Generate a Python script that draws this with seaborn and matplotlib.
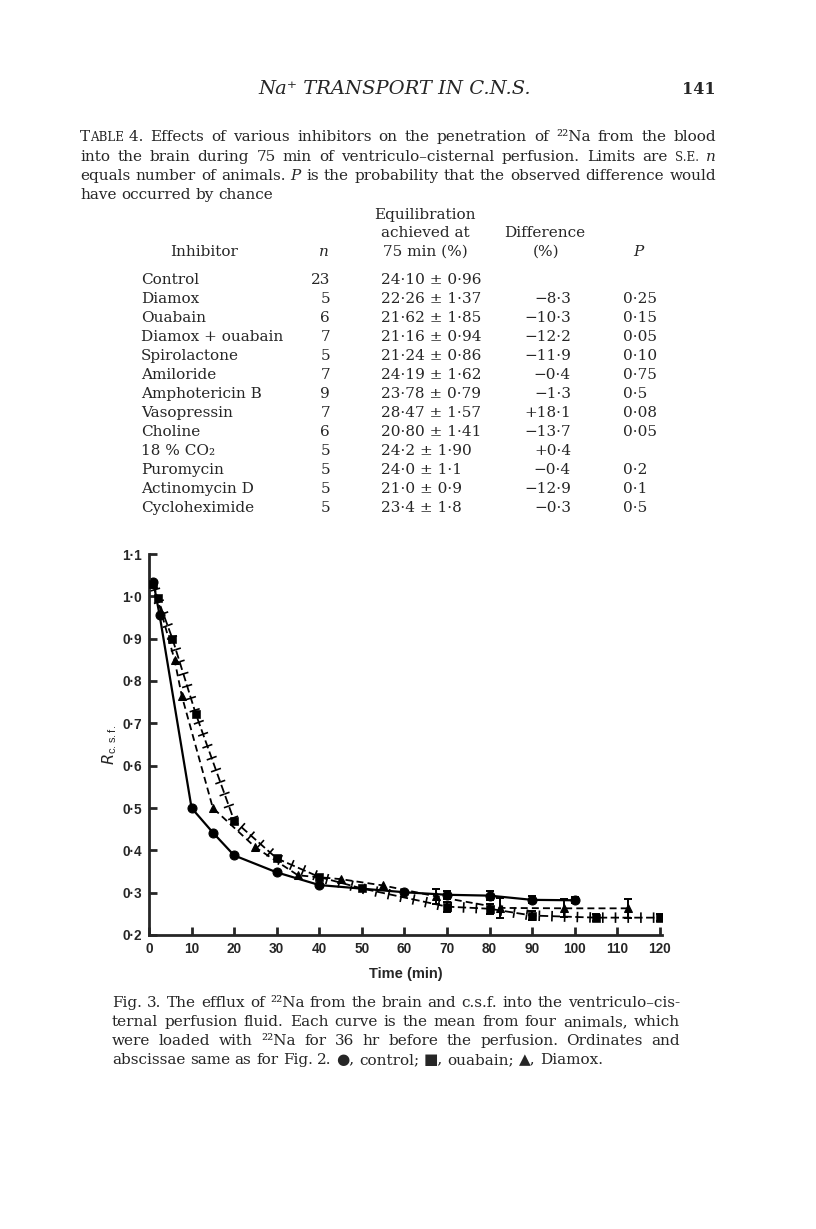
import pandas as pd
import seaborn as sns
import matplotlib.pyplot as plt
import matplotlib.patheffects as pe

W, H = 816, 1229

# Fig. 3 values (time in min, R c.s.f.)
control_t = [1, 2.5, 10, 15, 20, 30, 40, 60, 70, 80, 90, 100]
control_r = [1.035, 0.955, 0.50, 0.442, 0.388, 0.348, 0.318, 0.301, 0.295, 0.293, 0.283, 0.282]
control_err = [0, 0, 0, 0, 0, 0, 0, 0, 0.010, 0.010, 0.008, 0.007]

ouabain_t = [1, 2, 5.5, 11, 20, 30, 40, 50, 70, 80, 90, 105, 120]
ouabain_r = [1.03, 0.996, 0.90, 0.722, 0.47, 0.381, 0.337, 0.31, 0.267, 0.262, 0.246, 0.241, 0.241]
ouabain_err = [0, 0, 0, 0, 0, 0, 0, 0, 0.012, 0.012, 0.010, 0.008, 0.009]

diamox_t = [1, 6, 7.7, 15, 25, 35, 45, 55, 67.5, 82.5, 97.5, 112.5]
diamox_r = [1.03, 0.85, 0.765, 0.50, 0.407, 0.341, 0.332, 0.317, 0.291, 0.264, 0.263, 0.263]
diamox_err = [0, 0, 0, 0, 0, 0, 0, 0, 0.017, 0.024, 0.021, 0.023]

x_ticks = [0, 10, 20, 30, 40, 50, 60, 70, 80, 90, 100, 110, 120]
y_ticks = [0.2, 0.3, 0.4, 0.5, 0.6, 0.7, 0.8, 0.9, 1.0, 1.1]

# Table 4
inhibitors = ["Control", "Diamox", "Ouabain", "Diamox + ouabain", "Spirolactone",
              "Amiloride", "Amphotericin B", "Vasopressin", "Choline", "18 % CO₂",
              "Puromycin", "Actinomycin D", "Cycloheximide"]
n_animals = ["23", "5", "6", "7", "5", "7", "9", "7", "6", "5", "5", "5", "5"]
equilibration = ["24·10 ± 0·96", "22·26 ± 1·37", "21·62 ± 1·85", "21·16 ± 0·94",
                 "21·24 ± 0·86", "24·19 ± 1·62", "23·78 ± 0·79", "28·47 ± 1·57",
                 "20·80 ± 1·41", "24·2 ± 1·90", "24·0 ± 1·1", "21·0 ± 0·9", "23·4 ± 1·8"]
difference = ["", "−8·3", "−10·3", "−12·2", "−11·9", "−0·4", "−1·3", "+18·1",
              "−13·7", "+0·4", "−0·4", "−12·9", "−0·3"]
p_values = ["", "0·25", "0·15", "0·05", "0·10", "0·75", "0·5", "0·08", "0·05", "",
            "0·2", "0·1", "0·5"]

sns.set_style("ticks")
plt.rcParams['font.family'] = ['DejaVu Serif']
plt.rcParams['mathtext.fontset'] = 'dejavuserif'
plt.rcParams['lines.scale_dashes'] = False

fig = plt.figure(figsize=(W / 100, H / 100), dpi=100)
renderer = fig.canvas.get_renderer()
SERIF = 'DejaVu Serif'
BODY = 11


def put_line(y, x0, words, x1=None, size=BODY):
    # words: str or list of (text, kwargs) pieces; spread to x1 if given
    placed = []
    for w in words:
        if isinstance(w, str):
            w = [(w, {})]
        parts, width = [], 0
        for s, kw in w:
            t = fig.text(0, 1 - y / H, s, fontsize=kw.get('size', size),
                         style=kw.get('style', 'normal'), family=SERIF, va='baseline')
            parts.append((t, width))
            width += t.get_window_extent(renderer).width
        placed.append((parts, width))
    total = sum(p[1] for p in placed)
    gap = size * 0.3 * 100 / 72
    if x1 is not None and len(placed) > 1:
        gap = (x1 - x0 - total) / (len(placed) - 1)
    x = x0
    for parts, width in placed:
        for t, off in parts:
            t.set_x((x + off) / W)
        x += width + gap


def sc(word, size=BODY):
    # small capitals
    return [(word[0], {'size': size}), (word[1:], {'size': size * 0.78})]


ital = {'style': 'italic'}

# page header
fig.text(395 / W, 1 - 94 / H, "Na⁺ TRANSPORT IN C.N.S.", fontsize=14, style='italic',
         family=SERIF, ha='center', va='baseline')
fig.text(716 / W, 1 - 94 / H, "141", fontsize=11.5, weight='bold', family=SERIF,
         ha='right', va='baseline')

# table caption
L0, L1 = 80, 716
put_line(141, L0, [sc("TABLE") + [(" 4.", {})]] + "Effects of various inhibitors on the penetration of".split()
         + [[("²²Na", {})]] + "from the blood".split(), L1)
put_line(161, L0, "into the brain during 75 min of ventriculo–cisternal perfusion. Limits are".split()
         + [[("S.E.", {'size': BODY * 0.78})], [("n", ital)]], L1)
put_line(180, L0, ["equals", "number", "of", "animals.", [("P", ital)]]
         + "is the probability that the observed difference would".split(), L1)
put_line(199, L0, "have occurred by chance".split())

# table headings
tkw = dict(fontsize=11, family=SERIF, va='baseline')
fig.text(425 / W, 1 - 219 / H, "Equilibration", ha='center', **tkw)
fig.text(425 / W, 1 - 237 / H, "achieved at", ha='center', **tkw)
fig.text(545 / W, 1 - 237 / H, "Difference", ha='center', **tkw)
fig.text(204 / W, 1 - 256 / H, "Inhibitor", ha='center', **tkw)
fig.text(324 / W, 1 - 256 / H, "n", ha='center', style='italic', **tkw)
fig.text(425 / W, 1 - 256 / H, "75 min (%)", ha='center', **tkw)
fig.text(546 / W, 1 - 256 / H, "(%)", ha='center', **tkw)
fig.text(638 / W, 1 - 256 / H, "P", ha='center', style='italic', **tkw)

for i in range(len(inhibitors)):
    yb = 1 - (284 + 19 * i) / H
    fig.text(141 / W, yb, inhibitors[i], ha='left', **tkw)
    fig.text(330 / W, yb, n_animals[i], ha='right', **tkw)
    fig.text(381 / W, yb, equilibration[i], ha='left', **tkw)
    fig.text(571 / W, yb, difference[i], ha='right', **tkw)
    fig.text(623 / W, yb, p_values[i], ha='left', **tkw)

# Fig. 3
ax = fig.add_axes([149 / W, 1 - 935 / H, (662 - 149) / W, (935 - 554) / H])

df_c = pd.DataFrame({'t': control_t, 'r': control_r})
df_o = pd.DataFrame({'t': ouabain_t, 'r': ouabain_r})
df_d = pd.DataFrame({'t': diamox_t, 'r': diamox_r})

sns.lineplot(data=df_c, x='t', y='r', ax=ax, color='k', lw=1.6, estimator=None, sort=False,
             marker='o', markersize=6.5, markeredgecolor='k')
sns.lineplot(data=df_d, x='t', y='r', ax=ax, color='k', lw=1.3, estimator=None, sort=False,
             linestyle=(0, (5, 3)), marker='^', markersize=6, markeredgecolor='k')
sns.lineplot(data=df_o, x='t', y='r', ax=ax, color='k', lw=1.3, estimator=None, sort=False,
             linestyle=(0, (6, 2.5)),
             path_effects=[pe.Normal(),
                           pe.TickedStroke(spacing=9, angle=90, length=0.42, linewidth=1.2),
                           pe.TickedStroke(spacing=9, angle=-90, length=0.42, linewidth=1.2)])
sns.scatterplot(data=df_o, x='t', y='r', ax=ax, color='k', marker='s', s=30, edgecolor='k',
                zorder=5)

for ts, rs, es in [(control_t, control_r, control_err), (ouabain_t, ouabain_r, ouabain_err),
                   (diamox_t, diamox_r, diamox_err)]:
    pts = [(t, r, e) for t, r, e in zip(ts, rs, es) if e > 0]
    ax.errorbar([p[0] for p in pts], [p[1] for p in pts], yerr=[p[2] for p in pts],
                fmt='none', ecolor='k', elinewidth=1.4, capsize=3.2, capthick=1.4)

ax.set_xlim(0, 120.5)
ax.set_ylim(0.2, 1.1)
ax.set_xticks(x_ticks)
ax.set_yticks(y_ticks)
ax.set_xticklabels([str(v) for v in x_ticks])
ax.set_yticklabels([f"{v:.1f}".replace('.', '·') for v in y_ticks])
for lab in ax.get_xticklabels() + ax.get_yticklabels():
    lab.set_family('Liberation Sans')
    lab.set_weight('bold')
    lab.set_fontsize(9.8)
ax.tick_params(direction='in', length=6, width=2, pad=5)
sns.despine(ax=ax)
for s in ['left', 'bottom']:
    ax.spines[s].set_linewidth(2)
ax.set_xlabel("Time (min)", family='Liberation Sans', weight='bold', fontsize=10.5, labelpad=8)
ax.set_ylabel("")
fig.text(110 / W, 1 - 745 / H, r"$\mathit{R}_{\mathregular{c.s.f.}}$", rotation=90, fontsize=11.5,
         family='Liberation Sans', math_fontfamily='dejavusans', ha='center', va='center')

# figure caption
C0, C1 = 112, 680
put_line(1007, C0, "Fig. 3. The efflux of ²²Na from the brain and c.s.f. into the ventriculo–cis-".split(), C1)
put_line(1026, C0, "ternal perfusion fluid. Each curve is the mean from four animals, which".split(), C1)
put_line(1045, C0, "were loaded with ²²Na for 36 hr before the perfusion. Ordinates and".split(), C1)
put_line(1064, C0, "abscissae same as for Fig. 2. ●, control; ■, ouabain; ▲, Diamox.".split())

fig.savefig("out.png", dpi=100)
